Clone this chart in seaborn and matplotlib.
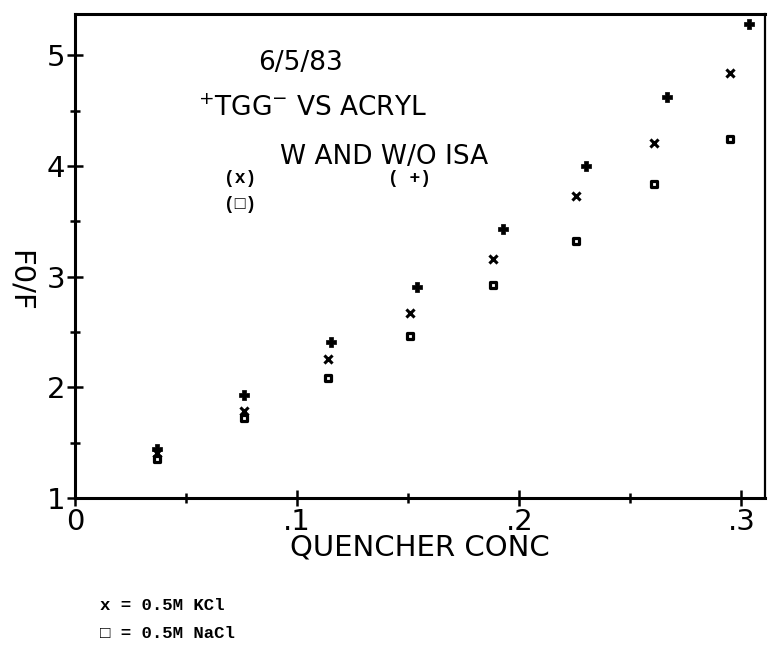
import numpy as np
import pandas as pd
import seaborn as sns
import matplotlib.pyplot as plt

sns.set_style("white")
plt.rcParams['font.family'] = ['DejaVu Sans']
plt.rcParams['mathtext.fontset'] = 'dejavusans'
plt.rcParams['text.color'] = 'black'
plt.rcParams['axes.labelcolor'] = 'black'

# quencher concentration (x and square series), and the + series (plotted slightly right)
conc = [0.037, 0.076, 0.114, 0.151, 0.188, 0.2255, 0.2606, 0.2948]
conc_plus = [0.037, 0.076, 0.1152, 0.1539, 0.1926, 0.230, 0.2664, 0.3033]

# F0/F values
f_kcl = [1.41, 1.79, 2.26, 2.67, 3.16, 3.73, 4.21, 4.84]      # x  = 0.5M KCl (with ISA)
f_nacl = [1.35, 1.72, 2.08, 2.46, 2.92, 3.32, 3.84, 4.24]     # box = 0.5M NaCl (with ISA)
f_none = [1.44, 1.93, 2.41, 2.91, 3.43, 4.00, 4.62, 5.28]     # +  without ISA

x_ticks = [0, 0.1, 0.2, 0.3]
x_ticklabels = ["0", ".1", ".2", ".3"]
y_ticks = [1, 2, 3, 4, 5]

fig = plt.figure(figsize=(7.69, 6.52), dpi=100)
ax = fig.add_axes([0.0975, 0.2362, 0.897, 0.7423])

sns.scatterplot(x=conc, y=f_nacl, marker="s", s=20, color="white",
                edgecolor="black", linewidth=2.3, ax=ax, zorder=3)
sns.scatterplot(x=conc, y=f_kcl, marker="x", s=34, color="black",
                linewidth=2.2, ax=ax, zorder=3)
sns.scatterplot(x=conc_plus, y=f_none, marker="P", s=50, color="black",
                edgecolor="black", linewidth=0.5, ax=ax, zorder=4)

ax.set_xlim(0, 0.3105)
ax.set_ylim(1, 5.372)

ax.set_xticks(x_ticks)
ax.set_xticklabels(x_ticklabels)
ax.set_xticks([0.05, 0.15, 0.25], minor=True)
ax.set_yticks(y_ticks)
ax.set_yticklabels([str(v) for v in y_ticks])
ax.set_yticks([1.5, 2.5, 3.5, 4.5], minor=True)

ax.tick_params(which="major", direction="inout", length=12, width=1.8,
               labelsize=21, pad=1, color="black", labelcolor="black",
               bottom=True, left=True)
ax.tick_params(which="minor", direction="inout", length=7, width=1.8,
               bottom=True, left=True, color="black")

for side in ["left", "bottom", "top", "right"]:
    ax.spines[side].set_color("black")
    ax.spines[side].set_linewidth(2.2)
ax.spines["right"].set_linewidth(1.6)

ax.set_xlabel("QUENCHER CONC", fontsize=21, va="center")
ax.xaxis.set_label_coords(0.5, -0.103)
ax.set_ylabel("F0/F", fontsize=21, rotation=270, va="center", ha="center")
ax.yaxis.set_label_coords(-0.08, 0.448)

# chart annotations
ax.text(0.1013, 4.93, "6/5/83", fontsize=19, ha="center", va="center")
ax.text(0.1067, 4.514, "${}^{+}$TGG${}^{-}$ VS ACRYL", fontsize=19,
        ha="center", va="center")
ax.text(0.1391, 4.08, "W AND W/O ISA", fontsize=19, ha="center", va="center")

mono = ["Liberation Mono", "DejaVu Sans Mono"]
ax.text(0.0743, 3.89, "(x)", fontsize=13, ha="center", va="center",
        family=mono, fontweight="bold")
ax.text(0.0743, 3.647, "(\u25a1)", fontsize=13, ha="center", va="center",
        family=mono, fontweight="bold")
ax.text(0.1508, 3.89, "( +)", fontsize=13, ha="center", va="center",
        family=mono, fontweight="bold")

# typed key under the plot
fig.text(0.130, 0.072, "x = 0.5M KCl", fontsize=12.5, family=mono,
         fontweight="bold", va="center", ha="left")
fig.text(0.130, 0.029, "\u25a1 = 0.5M NaCl", fontsize=12.5, family=mono,
         fontweight="bold", va="center", ha="left")

fig.savefig("out.png", dpi=100, facecolor="white")
